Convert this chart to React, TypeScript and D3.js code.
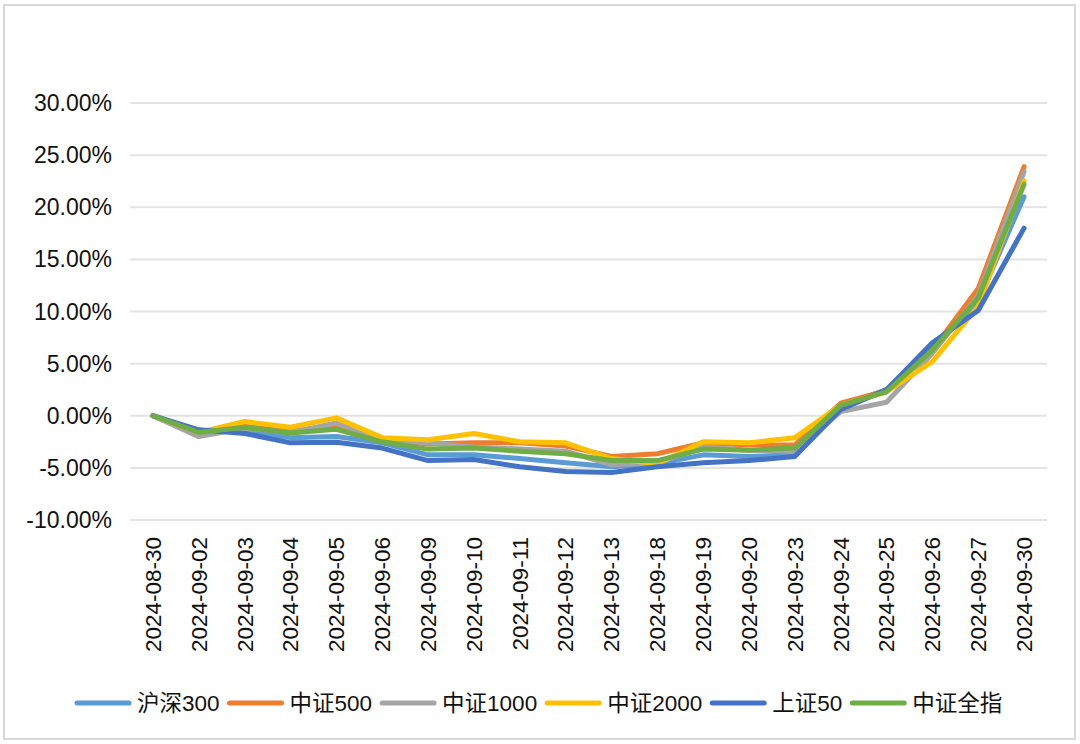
import React, { useEffect, useRef } from 'react';
import * as d3 from 'd3';

const dates = ['2024-08-30','2024-09-02','2024-09-03','2024-09-04','2024-09-05','2024-09-06','2024-09-09','2024-09-10','2024-09-11','2024-09-12','2024-09-13','2024-09-18','2024-09-19','2024-09-20','2024-09-23','2024-09-24','2024-09-25','2024-09-26','2024-09-27','2024-09-30'];

const hs300 = [0, -1.5, -1.5, -2.1, -2.0, -2.6, -3.75, -3.75, -4.1, -4.5, -4.9, -4.6, -3.75, -3.9, -3.75, 0.9, 2.5, 6.5, 11.0, 21.0];
const zz500 = [0, -1.8, -1.0, -1.5, -0.9, -2.3, -2.7, -2.6, -2.6, -2.9, -3.9, -3.65, -2.6, -2.8, -2.8, 1.2, 2.4, 6.3, 12.2, 23.9];
const zz1000 = [0, -2.0, -1.2, -1.6, -0.7, -2.3, -2.6, -3.0, -3.2, -3.4, -4.7, -4.5, -3.0, -3.3, -3.4, 0.4, 1.3, 6.0, 11.5, 23.4];
const zz2000 = [0, -1.6, -0.55, -1.1, -0.2, -2.1, -2.3, -1.7, -2.5, -2.6, -4.1, -4.6, -2.5, -2.6, -2.1, 1.0, 2.3, 5.2, 10.5, 22.5];
const sz50 = [0, -1.35, -1.7, -2.6, -2.55, -3.1, -4.3, -4.2, -4.9, -5.35, -5.45, -4.9, -4.5, -4.3, -3.9, 0.6, 2.5, 7.0, 10.1, 18.0];
const zzqz = [0, -1.6, -1.1, -1.65, -1.3, -2.5, -3.2, -3.1, -3.4, -3.65, -4.3, -4.3, -3.2, -3.3, -3.1, 1.0, 2.3, 6.3, 11.3, 22.2];

const seriesNames = ['沪深300', '中证500', '中证1000', '中证2000', '上证50', '中证全指'];
const seriesColors = ['#5B9BD5', '#ED7D31', '#A5A5A5', '#FFC000', '#4472C4', '#70AD47'];
const seriesValues = [hs300, zz500, zz1000, zz2000, sz50, zzqz];

const yTicks = [-10, -5, 0, 5, 10, 15, 20, 25, 30];

const W = 1080, H = 744;
const FONT = '"Liberation Sans", Arial, "Noto Sans CJK SC", sans-serif';

export default function App() {
  const ref = useRef<SVGSVGElement>(null);
  useEffect(() => {
    document.body.style.margin = '0';
    const svg = d3.select(ref.current);
    svg.selectAll('*').remove();

    svg.append('rect').attr('x', 0).attr('y', 0).attr('width', W).attr('height', H).attr('fill', '#fff');
    svg.append('rect').attr('x', 4).attr('y', 5).attr('width', 1071).attr('height', 734)
      .attr('fill', 'none').attr('stroke', '#d9d9d9').attr('stroke-width', 2);

    const x = d3.scaleBand<string>().domain(dates).range([130, 1047]);
    const y = d3.scaleLinear().domain([-10, 30]).range([520, 103]);
    const cx = (d: string) => (x(d) as number) + x.bandwidth() / 2;

    const g = svg.append('g');
    g.selectAll('line.grid').data(yTicks).enter().append('line')
      .attr('x1', 130).attr('x2', 1047)
      .attr('y1', d => y(d)).attr('y2', d => y(d))
      .attr('stroke', '#e3e3e3').attr('stroke-width', 2);

    g.selectAll('text.ylab').data(yTicks).enter().append('text')
      .attr('x', 112).attr('y', d => y(d)).attr('dy', '0.35em')
      .attr('text-anchor', 'end').attr('font-family', FONT).attr('font-size', 23)
      .attr('fill', '#111').text(d => d3.format('.2f')(d).replace('\u2212', '-') + '%');

    g.selectAll('text.xlab').data(dates).enter().append('text')
      .attr('transform', d => `translate(${cx(d)},537) rotate(-90)`)
      .attr('dy', '0.35em').attr('text-anchor', 'end')
      .attr('font-family', FONT).attr('font-size', 22.5).attr('fill', '#111')
      .text(d => d);

    const line = d3.line<number>().x((_, i) => cx(dates[i])).y(v => y(v));
    seriesValues.forEach((vals, si) => {
      g.append('path').datum(vals).attr('d', line)
        .attr('fill', 'none').attr('stroke', seriesColors[si]).attr('stroke-width', 5)
        .attr('stroke-linejoin', 'round').attr('stroke-linecap', 'round');
    });

    // legend
    const lg = svg.append('g');
    let lx = 77;
    const ly = 703;
    seriesNames.forEach((name, si) => {
      lg.append('line').attr('x1', lx).attr('x2', lx + 52).attr('y1', ly).attr('y2', ly)
        .attr('stroke', seriesColors[si]).attr('stroke-width', 5).attr('stroke-linecap', 'round');
      const t = lg.append('text').attr('x', lx + 60).attr('y', ly).attr('dy', '0.35em')
        .attr('font-family', FONT).attr('font-size', 22.5).attr('fill', '#111').text(name);
      const w = (t.node() as SVGTextElement).getComputedTextLength();
      lx = lx + 60 + w + 10;
    });
  }, []);
  return <svg ref={ref} width={W} height={H} style={{ display: 'block' }} />;
}
